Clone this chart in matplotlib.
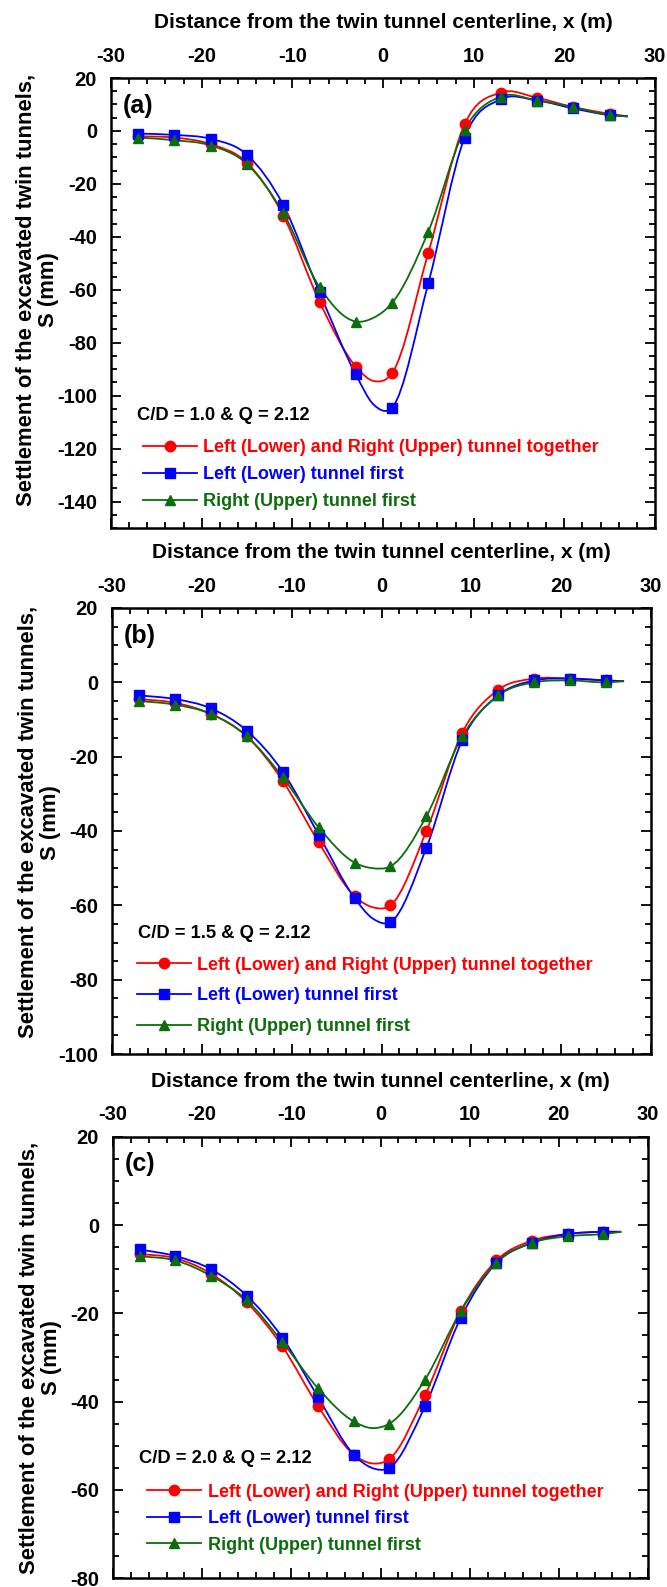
"""
Surface settlement troughs above twin tunnels for three cover depths.
"""

import matplotlib
matplotlib.use("Agg")
import matplotlib.pyplot as plt
import numpy as np
from matplotlib.lines import Line2D
from matplotlib.patches import PathPatch
from matplotlib.path import Path
from matplotlib.ticker import MultipleLocator

plt.rcParams['font.family'] = ['Liberation Sans', 'DejaVu Sans']
plt.rcParams['font.weight'] = 'bold'
plt.rcParams['axes.unicode_minus'] = False

# Measurement positions (m); -1 and 27 carry no marker
X_LINE = [-27, -23, -19, -15, -11, -7, -3, -1, 1, 5, 9, 13, 17, 21, 25, 27]
MARK_IDX = [0, 1, 2, 3, 4, 5, 6, 8, 9, 10, 11, 12, 13, 14]

LABELS = [
    'Left (Lower) and Right (Upper) tunnel together',
    'Left (Lower) tunnel first',
    'Right (Upper) tunnel first',
]

# (a) C/D = 1.0
red_a = [-2, -2.5, -5, -12, -32, -64.5, -89, -94.5, -91.5, -46, 2.5, 14.5, 12.5, 9, 6.5, 5.5]
blue_a = [-1, -1.5, -3, -9, -28, -61, -92, -103.5, -104.5, -57.5, -2.5, 12, 11.5, 8.5, 6, 5.5]
green_a = [-2.5, -3.5, -5.5, -12.5, -31, -59, -72, -70.5, -65, -38, 0.5, 13, 11.5, 9, 6, 5.5]

# (b) C/D = 1.5
red_b = [-4.5, -5.5, -8.5, -14.5, -26.5, -43, -57.5, -60.5, -60, -40, -13.5, -2, 1, 1, 0.5, 0.3]
blue_b = [-3.5, -4.5, -7, -13, -24, -41, -58, -63.5, -64.5, -44.5, -15.5, -3.5, 0.5, 1, 0.5, 0.3]
green_b = [-5, -6, -8.5, -14.5, -25.5, -39, -48.5, -50, -49.5, -36, -14.5, -3.5, 0, 0.5, 0, 0.3]

# (c) C/D = 2.0
red_c = [-6.5, -7.5, -11, -17.5, -27.5, -41, -52, -54, -53, -38.5, -19.5, -8, -3.5, -2, -1.5, -1.5]
blue_c = [-5.5, -7, -10, -16, -25.5, -39, -52, -55, -55, -41, -21, -8.5, -4, -2, -1.5, -1.5]
green_c = [-7, -8, -11.5, -17, -26.5, -37, -44.5, -46, -45, -35, -19.5, -8.5, -4, -2.5, -2, -1.5]

RED, BLUE, GREEN = '#ff0000', '#0000ff', '#0b6e0b'
STYLES = [(RED, 'o'), (BLUE, 's'), (GREEN, '^')]


def smooth_path(x, y):
    """Cubic Hermite curve through the points, as Bezier segments."""
    x = np.asarray(x, float)
    y = np.asarray(y, float)
    m = np.gradient(y, x)
    verts = [(x[0], y[0])]
    codes = [Path.MOVETO]
    for i in range(len(x) - 1):
        h = x[i + 1] - x[i]
        verts += [(x[i] + h / 3, y[i] + m[i] * h / 3),
                  (x[i + 1] - h / 3, y[i + 1] - m[i + 1] * h / 3),
                  (x[i + 1], y[i + 1])]
        codes += [Path.CURVE4] * 3
    return Path(verts, codes)


def draw_panel(ax, series, ylim, tag, case_text, text_y, leg_y, leg_x,
               leg_space, ylab_y):
    for (color, marker), vals in zip(STYLES, series):
        ax.add_patch(PathPatch(smooth_path(X_LINE, vals), facecolor='none',
                               edgecolor=color, lw=1.3, zorder=2))
        ax.plot(X_LINE, vals, linestyle='none', marker=marker, color=color,
                markersize=7.5, markevery=MARK_IDX, zorder=3)

    ax.set_xlim(-30, 30)
    ax.set_ylim(*ylim)
    ax.xaxis.set_major_locator(MultipleLocator(10))
    ax.xaxis.set_minor_locator(MultipleLocator(2))
    ax.yaxis.set_major_locator(MultipleLocator(20))
    ax.yaxis.set_minor_locator(MultipleLocator(5))
    ax.tick_params(which='both', direction='in', top=True, right=True,
                   bottom=True, labeltop=True, labelbottom=False, width=1.3)
    ax.tick_params(which='major', length=7, labelsize=14.5)
    ax.tick_params(axis='x', which='major', pad=9)
    ax.tick_params(axis='y', which='major', pad=10)
    ax.tick_params(which='minor', length=4)
    for sp in ax.spines.values():
        sp.set_linewidth(1.8)

    ax.xaxis.set_label_position('top')
    ax.set_xlabel('Distance from the twin tunnel centerline, x (m)',
                  fontsize=15, fontweight='bold', labelpad=13)
    ax.set_ylabel('Settlement of the excavated twin tunnels,\nS (mm)',
                  fontsize=15.8, fontweight='bold', linespacing=1.1)
    ax.yaxis.set_label_coords(-0.095, ylab_y)

    ax.text(0.022, 0.965, tag, transform=ax.transAxes, fontsize=18,
            fontweight='bold', ha='left', va='top')
    ax.text(0.048, text_y, case_text, transform=ax.transAxes, fontsize=13.2,
            fontweight='bold', ha='left', va='center')

    handles = [Line2D([], [], color=c, marker=mk, markersize=7.5, lw=1.3)
               for c, mk in STYLES]
    ax.legend(handles, LABELS, loc='lower left', bbox_to_anchor=(leg_x, leg_y),
              frameon=False, labelcolor='linecolor', handlelength=3.0,
              handletextpad=0.35, labelspacing=leg_space, borderaxespad=0,
              borderpad=0, prop={'size': 13, 'weight': 'bold'})


fig = plt.figure(figsize=(6.67, 15.87), dpi=100)
ax_a = fig.add_axes([111 / 667, 1 - 528 / 1587, 544 / 667, 450 / 1587])
ax_b = fig.add_axes([112 / 667, 1 - 1054 / 1587, 539 / 667, 446 / 1587])
ax_c = fig.add_axes([113 / 667, 1 - 1578 / 1587, 535 / 667, 441 / 1587])

draw_panel(ax_a, [red_a, blue_a, green_a], (-150, 20), '(a)',
           'C/D = 1.0 & Q = 2.12', 0.249, 0.04, 0.058, 0.55, 0.53)
draw_panel(ax_b, [red_b, blue_b, green_b], (-100, 20), '(b)',
           'C/D = 1.5 & Q = 2.12', 0.27, 0.043, 0.046, 0.75, 0.52)
draw_panel(ax_c, [red_c, blue_c, green_c], (-80, 20), '(c)',
           'C/D = 2.0 & Q = 2.12', 0.272, 0.055, 0.064, 0.53, 0.5)

fig.savefig('out.png', dpi=100)
